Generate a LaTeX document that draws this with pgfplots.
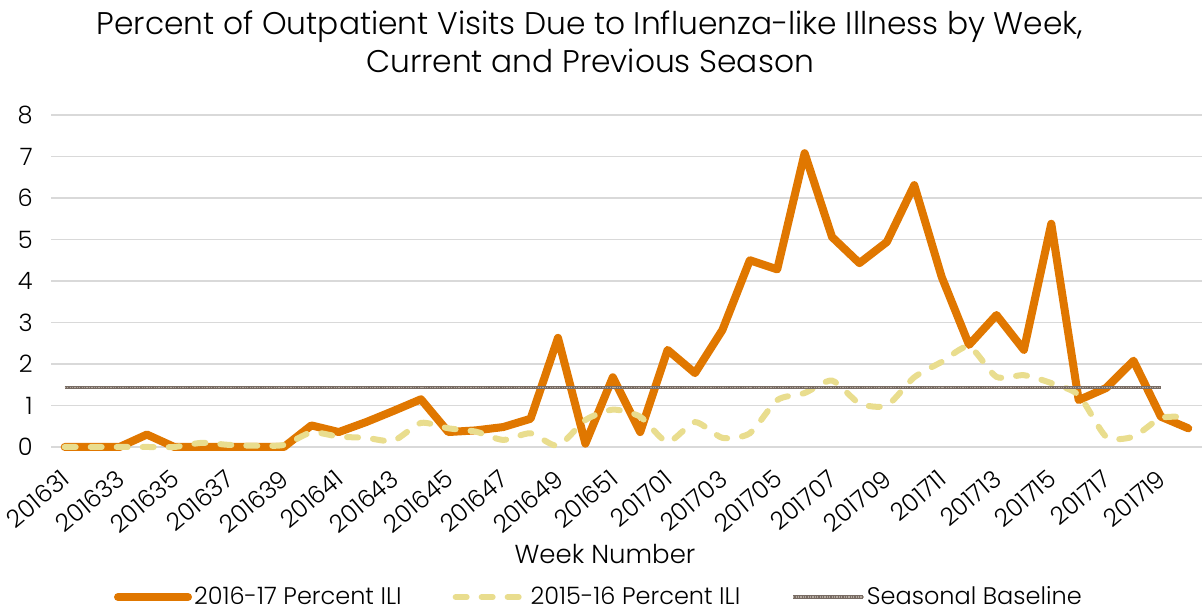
\documentclass[border=0pt]{standalone}
\usepackage{pgfplots}
\pgfplotsset{compat=1.18}
\usepackage{fontspec}
\setmainfont{Poppins}[UprightFont=* Light]
\newfontfamily\tickfont{Poppins}[UprightFont=* Light, Numbers=Monospaced]
\definecolor{ili17}{RGB}{224,119,0}
\definecolor{ili16}{RGB}{233,221,142}
\definecolor{basel}{RGB}{120,108,100}
\definecolor{basell}{RGB}{180,170,160}
\definecolor{gridc}{RGB}{217,217,217}
\begin{document}
\begin{tikzpicture}
\begin{axis}[
  name=ax,
  scale only axis,
  width=575.5bp, height=166bp,
  xmin=-0.5, xmax=41.5,
  ymin=0, ymax=8,
  clip=false,
  axis line style={draw=none},
  major tick length=0pt,
  ytick={0,1,...,8},
  xtick={0,2,...,40},
  xticklabels={201631,201633,201635,201637,201639,201641,201643,201645,201647,201649,201651,201701,201703,201705,201707,201709,201711,201713,201715,201717,201719},
  ymajorgrids,
  grid style={gridc, line width=0.8bp},
  /pgf/number format/assume math mode=true,
  yticklabel style={font=\tickfont\fontsize{12bp}{14bp}\selectfont, anchor=east, inner sep=0pt, xshift=-9bp},
  xticklabel style={font=\tickfont\fontsize{12.2bp}{14bp}\selectfont, xshift=3.5bp, yshift=-17.5bp, rotate=40, anchor=base east, inner sep=0pt},
  xlabel={Week Number},
  xlabel style={font=\fontsize{13bp}{15bp}\selectfont, at={(axis description cs:0.4813,-0.3524)}, anchor=base},
  legend columns=3,
  legend style={draw=none, fill=none, font=\fontsize{12bp}{14bp}\selectfont,
    at={(axis description cs:0.476,-0.452)}, anchor=center, inner sep=0pt,
    nodes={inner sep=1bp},
    /tikz/every odd column/.append style={column sep=0bp},
    /tikz/every even column/.append style={column sep=24.5bp}},
  legend image code/.code={\draw[#1] (0bp,0bp) -- (35bp,0bp);},
]
\addplot[ili17, line width=4bp, line join=round, line cap=round] coordinates {
(0,0) (1,0) (2,0) (3,0.3) (4,0) (5,0) (6,0) (7,0) (8,0) (9,0.52)
(10,0.36) (11,0.6) (12,0.87) (13,1.15) (14,0.36) (15,0.4) (16,0.48) (17,0.68) (18,2.63) (19,0.08)
(20,1.68) (21,0.36) (22,2.34) (23,1.78) (24,2.82) (25,4.5) (26,4.28) (27,7.08) (28,5.06) (29,4.43)
(30,4.94) (31,6.31) (32,4.1) (33,2.46) (34,3.18) (35,2.34) (36,5.38) (37,1.13) (38,1.42) (39,2.08)
(40,0.73) (41,0.45)};
\addlegendentry{2016-17 Percent ILI}
\addplot[ili16, line width=3bp, line cap=round, dash pattern=on 5.5bp off 7.5bp, smooth, tension=0.4] coordinates {
(0,0) (1,0) (2,0) (3,0) (4,0) (5,0.1) (6,0.05) (7,0.03) (8,0.05) (9,0.35)
(10,0.25) (11,0.22) (12,0.15) (13,0.58) (14,0.45) (15,0.37) (16,0.17) (17,0.33) (18,0.03) (19,0.65)
(20,0.9) (21,0.73) (22,0.12) (23,0.6) (24,0.22) (25,0.33) (26,1.13) (27,1.3) (28,1.6) (29,1.05)
(30,1.0) (31,1.68) (32,2.05) (33,2.42) (34,1.69) (35,1.73) (36,1.54) (37,1.25) (38,0.25) (39,0.25)
(40,0.7) (41,0.72)};
\addlegendentry{2015-16 Percent ILI}
\addplot[basel, line width=1.8bp, postaction={draw, basell, line width=0.6bp, dash pattern=on 0.6bp off 0.6bp}] coordinates {
(0,1.43) (1,1.43) (2,1.43) (3,1.43) (4,1.43) (5,1.43) (6,1.43) (7,1.43) (8,1.43) (9,1.43)
(10,1.43) (11,1.43) (12,1.43) (13,1.43) (14,1.43) (15,1.43) (16,1.43) (17,1.43) (18,1.43) (19,1.43)
(20,1.43) (21,1.43) (22,1.43) (23,1.43) (24,1.43) (25,1.43) (26,1.43) (27,1.43) (28,1.43) (29,1.43)
(30,1.43) (31,1.43) (32,1.43) (33,1.43) (34,1.43) (35,1.43) (36,1.43) (37,1.43) (38,1.43) (39,1.43)
(40,1.43)};
\addlegendentry{Seasonal Baseline}
\end{axis}
\node[anchor=base, font=\fontsize{15.65bp}{18bp}\selectfont] at ([xshift=269.5bp, yshift=206bp]ax.south west) {Percent of Outpatient Visits Due to Influenza-like Illness by Week,};
\node[anchor=base, font=\fontsize{15.65bp}{18bp}\selectfont] at ([xshift=269.5bp, yshift=187bp]ax.south west) {Current and Previous Season};
\pgfresetboundingbox
\path ([xshift=-25.5bp, yshift=-82bp]ax.south west) rectangle ([xshift=1bp, yshift=57.5bp]ax.north east);
\end{tikzpicture}
\end{document}
